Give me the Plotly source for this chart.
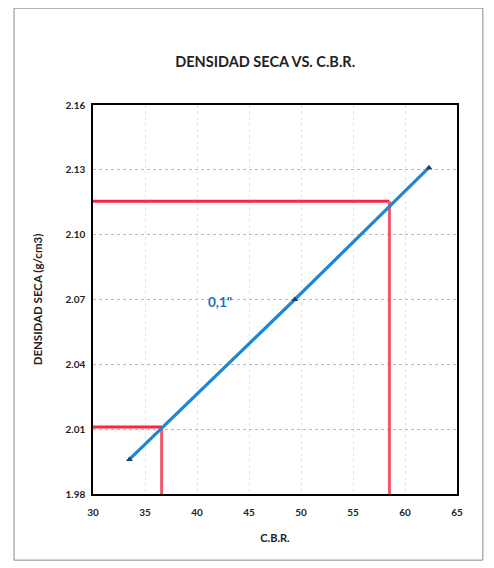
import plotly.graph_objects as go

# Data points (C.B.R. vs dry density)
cbr_values = [33.5, 49.4, 62.3]
density_values = [1.996, 2.070, 2.131]

# Reading lines (red)
read_density = [2.011, 2.1155]
read_cbr = [36.6, 58.5]

x_ticks = [30, 35, 40, 45, 50, 55, 60, 65]
y_ticks = [1.98, 2.01, 2.04, 2.07, 2.10, 2.13, 2.16]

FONT = "Lato"
fig = go.Figure()

# red reading lines: horizontal then vertical
for d, c in zip(read_density, read_cbr):
    fig.add_trace(go.Scatter(
        x=[x_ticks[0], c], y=[d, d],
        mode="lines", line=dict(color="#fb2442", width=3),
        showlegend=False, hoverinfo="skip"))
    fig.add_trace(go.Scatter(
        x=[c, c], y=[d, y_ticks[0]],
        mode="lines", line=dict(color="#f2566c", width=3),
        showlegend=False, hoverinfo="skip"))

# blue data line
fig.add_trace(go.Scatter(
    x=cbr_values, y=density_values, mode="lines+markers",
    line=dict(color="#1f86d6", width=3.2),
    marker=dict(symbol="triangle-up", size=6, color="#1a3f6a"),
    showlegend=False))

fig.add_annotation(x=42.2, y=2.069, text="<b>0,1\"</b>", showarrow=False,
                   font=dict(family=FONT, size=13.5, color="#1f6fc0"))

# outer chart border
fig.add_shape(type="rect", xref="paper", yref="paper",
              x0=-0.217, x1=1.071, y0=-0.170, y1=1.249,
              line=dict(color="#8a8a8a", width=1))

fig.update_layout(
    width=486, height=560,
    margin=dict(l=85, r=37, t=97, b=74),
    paper_bgcolor="white", plot_bgcolor="white",
    title=dict(text="<b>DENSIDAD SECA VS. C.B.R.</b>", x=0.473, xref="paper",
               xanchor="center", y=0.904, yanchor="middle",
               font=dict(family=FONT, size=14.5, color="#222")),
    font=dict(family=FONT, color="#222"),
)
fig.update_xaxes(
    range=[30, 65], tickvals=x_ticks, ticktext=[str(v) for v in x_ticks],
    showgrid=True, gridcolor="#e4e4e4", griddash="dot", gridwidth=1,
    showline=True, linecolor="black", linewidth=1.5, mirror=True,
    ticks="", ticklabelstandoff=8,
    tickfont=dict(family=FONT, size=10, color="#222", weight="bold"),
    title=dict(text="<b>C.B.R.</b>", font=dict(family=FONT, size=11), standoff=18),
    zeroline=False)
fig.update_yaxes(
    range=[1.98, 2.16], tickvals=y_ticks, ticktext=[f"{v:.2f}" for v in y_ticks],
    showgrid=True, gridcolor="#b8b8b8", griddash="dot", gridwidth=1,
    showline=True, linecolor="black", linewidth=1.5, mirror=True,
    ticks="", ticklabelstandoff=4,
    tickfont=dict(family=FONT, size=10, color="#222", weight="bold"),
    title=dict(text="<b>DENSIDAD SECA (g/cm3)</b>", font=dict(family=FONT, size=11.5), standoff=20),
    zeroline=False)

fig.write_html("out.html")
